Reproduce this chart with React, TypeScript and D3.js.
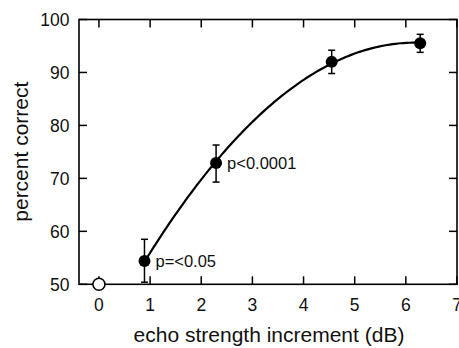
import React from "react";
import * as d3 from "d3";

const xValues = [0.89, 2.29, 4.55, 6.28];
const yValues = [54.4, 72.9, 92.0, 95.5];
const errUpper = [58.5, 76.3, 94.2, 97.2];
const errLower = [50.4, 69.3, 89.8, 93.8];
const baselinePoint = [0, 50];
const xTicks = [0, 1, 2, 3, 4, 5, 6, 7];
const yTicks = [50, 60, 70, 80, 90, 100];
const annotations = [
  { label: "p=<0.05", index: 0 },
  { label: "p<0.0001", index: 1 },
];

// least-squares quadratic fit of the data points
function quadFit(xs: number[], ys: number[]) {
  const n = xs.length;
  let s0 = n, s1 = 0, s2 = 0, s3 = 0, s4 = 0, t0 = 0, t1 = 0, t2 = 0;
  for (let i = 0; i < n; i++) {
    const x = xs[i], y = ys[i];
    s1 += x; s2 += x * x; s3 += x ** 3; s4 += x ** 4;
    t0 += y; t1 += x * y; t2 += x * x * y;
  }
  const M = [
    [s0, s1, s2, t0],
    [s1, s2, s3, t1],
    [s2, s3, s4, t2],
  ];
  for (let i = 0; i < 3; i++) {
    for (let k = i + 1; k < 3; k++) {
      const f = M[k][i] / M[i][i];
      for (let j = i; j < 4; j++) M[k][j] -= f * M[i][j];
    }
  }
  const c = [0, 0, 0];
  for (let i = 2; i >= 0; i--) {
    let s = M[i][3];
    for (let j = i + 1; j < 3; j++) s -= M[i][j] * c[j];
    c[i] = s / M[i][i];
  }
  return (x: number) => c[0] + c[1] * x + c[2] * x * x;
}

export default function App() {
  const W = 459, H = 348;
  const left = 79, right = 457, top = 19.5, bottom = 284.3;
  const x = d3.scaleLinear().domain([-0.39, 7]).range([left, right]);
  const y = d3.scaleLinear().domain([50, 100]).range([bottom, top]);
  const fit = quadFit(xValues, yValues);
  const x0 = d3.min(xValues)!, x1 = d3.max(xValues)!;
  const curvePts = d3.range(0, 101).map((i) => {
    const xv = x0 + ((x1 - x0) * i) / 100;
    return [xv, fit(xv)] as [number, number];
  });
  const line = d3
    .line<[number, number]>()
    .x((d) => x(d[0]))
    .y((d) => y(d[1]));
  const font = "'Liberation Sans', Arial, Helvetica, sans-serif";
  const tl = 8;
  return (
    <svg
      width={W}
      height={H}
      style={{ position: "absolute", left: 0, top: 0, background: "#fff" }}
      fontFamily={font}
    >
      <rect x={0} y={0} width={W} height={H} fill="#fff" />
      {/* ticks */}
      <g stroke="#000" strokeWidth={1.5}>
        {xTicks.map((t) => (
          <g key={"xt" + t}>
            <line x1={x(t)} x2={x(t)} y1={bottom} y2={bottom - tl} />
            <line x1={x(t)} x2={x(t)} y1={top} y2={top + tl} />
          </g>
        ))}
        {yTicks.map((t) => (
          <g key={"yt" + t}>
            <line x1={left} x2={left + tl} y1={y(t)} y2={y(t)} />
            <line x1={right} x2={right - tl} y1={y(t)} y2={y(t)} />
          </g>
        ))}
      </g>
      <rect
        x={left}
        y={top}
        width={right - left}
        height={bottom - top}
        fill="none"
        stroke="#000"
        strokeWidth={1.6}
      />
      {/* tick labels */}
      {xTicks.map((t) => (
        <text
          key={"xl" + t}
          x={x(t)}
          y={310.5}
          fontSize={17.5}
          textAnchor="middle"
          fill="#111"
        >
          {t}
        </text>
      ))}
      {yTicks.map((t) => (
        <text
          key={"yl" + t}
          x={69.5}
          y={y(t) + 6.2}
          fontSize={17.5}
          textAnchor="end"
          fill="#111"
        >
          {t}
        </text>
      ))}
      {/* axis titles */}
      <text
        x={269}
        y={341.5}
        fontSize={21}
        textAnchor="middle"
        fill="#111"
      >
        echo strength increment (dB)
      </text>
      <text
        transform={`translate(28,151.7) rotate(-90)`}
        fontSize={21}
        textAnchor="middle"
        fill="#111"
      >
        percent correct
      </text>
      {/* fit curve */}
      <path d={line(curvePts) || ""} fill="none" stroke="#000" strokeWidth={2.2} />
      {/* error bars */}
      <g stroke="#000" strokeWidth={1.5}>
        {xValues.map((xv, i) => (
          <g key={"e" + i}>
            <line x1={x(xv)} x2={x(xv)} y1={y(errUpper[i])} y2={y(errLower[i])} />
            <line x1={x(xv) - 3.5} x2={x(xv) + 3.5} y1={y(errUpper[i])} y2={y(errUpper[i])} />
            <line x1={x(xv) - 3.5} x2={x(xv) + 3.5} y1={y(errLower[i])} y2={y(errLower[i])} />
          </g>
        ))}
      </g>
      {/* points */}
      {xValues.map((xv, i) => (
        <circle key={"p" + i} cx={x(xv)} cy={y(yValues[i])} r={6} fill="#000" />
      ))}
      <circle
        cx={x(baselinePoint[0])}
        cy={y(baselinePoint[1])}
        r={6}
        fill="#fff"
        stroke="#000"
        strokeWidth={1.5}
      />
      {/* annotations */}
      {annotations.map((a) => (
        <text
          key={a.label}
          x={x(xValues[a.index]) + 11}
          y={y(yValues[a.index]) + 6}
          fontSize={16.5}
          fill="#111"
        >
          {a.label}
        </text>
      ))}
    </svg>
  );
}
